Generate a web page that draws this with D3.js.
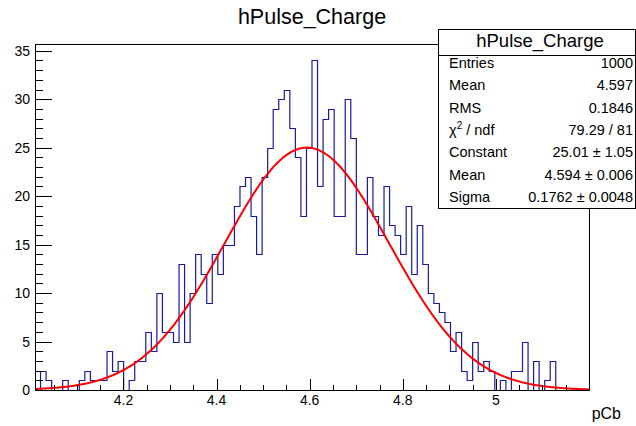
<!DOCTYPE html>
<html>
<head>
<meta charset="utf-8">
<script src="https://cdn.jsdelivr.net/npm/d3@7"></script>
<style>
  body { margin: 0; background: #fff; }
  svg { display: block; font-family: "Liberation Sans", Arial, Helvetica, sans-serif; }
</style>
</head>
<body>
<svg></svg>
<script>
// histogram hPulse_Charge: 100 bins between xMin and xMax
const xMin = 4.01;
const xMax = 5.2;
const counts = [
	0, 2, 1, 0, 0, 1, 0, 0, 1, 2,
	1, 1, 1, 4, 2, 3, 0, 1, 3, 3,
	6, 4, 10, 6, 6, 5, 13, 5, 10, 14,
	12, 9, 14, 12, 15, 15, 19, 21, 22, 18,
	14, 22, 25, 29, 30, 31, 27, 24, 18, 25,
	34, 21, 28, 29, 18, 18, 30, 26, 14, 14,
	22, 18, 16, 21, 17, 16, 14, 19, 12, 17,
	13, 10, 9, 8, 7, 4, 6, 2, 1, 5,
	2, 3, 2, 0, 1, 0, 2, 2, 5, 0,
	3, 0, 1, 3, 0, 0, 0, 0, 0, 0
];

// gaus fit parameters (from stats box)
const fitConst = 25.01;
const fitMean = 4.594;
const fitSigma = 0.1762;

const xTicks = [4.2, 4.4, 4.6, 4.8, 5];
const yTicks = [0, 5, 10, 15, 20, 25, 30, 35];

const statsRows = [
	["Entries", "1000"],
	["Mean", "4.597"],
	["RMS", "0.1846"],
	["chi2", "79.29 / 81"],
	["Constant", "25.01 \u00b1 1.05"],
	["Mean", "4.594 \u00b1 0.006"],
	["Sigma", "0.1762 \u00b1 0.0048"]
];

const size = { w: 636, h: 426 };
const frame = { l: 35, r: 589, t: 44, b: 390 };
const svg = d3.select("svg").attr("width", size.w).attr("height", size.h);

const yMax = d3.max(counts) * 1.05;
const x = d3.scaleLinear().domain([xMin, xMax]).range([frame.l, frame.r]);
const y = d3.scaleLinear().domain([0, yMax]).range([frame.b, frame.t]);

// title
svg.append("text")
	.attr("x", 312).attr("y", 24)
	.attr("text-anchor", "middle")
	.attr("font-size", 21.5)
	.text("hPulse_Charge");

// histogram outline
const binW = (xMax - xMin) / counts.length;
const path = d3.path();
counts.forEach((c, i) => {
	const x0 = x(xMin + i * binW), x1 = x(xMin + (i + 1) * binW);
	const yy = Math.round(y(c)) + 0.5;
	if (i === 0) path.moveTo(x0, yy);
	else path.lineTo(x0, yy);
	path.lineTo(x1, yy);
});
svg.append("path")
	.attr("d", path.toString())
	.attr("fill", "none")
	.attr("stroke", "#1a1aa0")
	.attr("stroke-width", 1.2);

// fitted gaussian
const gaus = (v) => fitConst * Math.exp(-0.5 * Math.pow((v - fitMean) / fitSigma, 2));
const pts = d3.range(0, 401).map((i) => xMin + (xMax - xMin) * i / 400);
svg.append("path")
	.attr("d", d3.line().x((d) => x(d)).y((d) => y(gaus(d)))(pts))
	.attr("fill", "none")
	.attr("stroke", "#ff0000")
	.attr("stroke-width", 2);

// frame
svg.append("rect")
	.attr("x", frame.l + 0.5).attr("y", frame.t + 0.5)
	.attr("width", frame.r - frame.l).attr("height", frame.b - frame.t)
	.attr("fill", "none").attr("stroke", "#000").attr("stroke-width", 1);

// x axis ticks (inside the frame)
const xMinor = d3.range(Math.ceil(xMin / 0.05) * 0.05, xMax, 0.05);
const axisG = svg.append("g").attr("stroke", "#000").attr("stroke-width", 1);
xMinor.forEach((t) => {
	const major = xTicks.some((m) => Math.abs(m - t) < 1e-6);
	const px = Math.round(x(t)) + 0.5;
	axisG.append("line")
		.attr("x1", px).attr("x2", px)
		.attr("y1", frame.b).attr("y2", frame.b - (major ? 11 : 5));
});
xTicks.forEach((t) => {
	svg.append("text")
		.attr("x", x(t)).attr("y", 405)
		.attr("text-anchor", "middle")
		.attr("font-size", 14)
		.text(t);
});

// y axis ticks
d3.range(0, Math.floor(yMax) + 1).forEach((t) => {
	const major = t % 5 === 0;
	const py = Math.round(y(t)) + 0.5;
	axisG.append("line")
		.attr("x1", frame.l).attr("x2", frame.l + (major ? 17 : 8))
		.attr("y1", py).attr("y2", py);
});
yTicks.forEach((t) => {
	svg.append("text")
		.attr("x", 30).attr("y", y(t) + 5)
		.attr("text-anchor", "end")
		.attr("font-size", 14)
		.text(t);
});

// x axis title
svg.append("text")
	.attr("x", 621).attr("y", 419)
	.attr("text-anchor", "end")
	.attr("font-size", 16)
	.text("pCb");

// stats box
const box = { l: 438.5, t: 29.5, r: 635.5, b: 208.5, head: 55.5 };
svg.append("rect")
	.attr("x", box.l).attr("y", box.t)
	.attr("width", box.r - box.l).attr("height", box.b - box.t)
	.attr("fill", "#fff").attr("stroke", "#000");
svg.append("line")
	.attr("x1", box.l).attr("x2", box.r)
	.attr("y1", box.head).attr("y2", box.head)
	.attr("stroke", "#000");
svg.append("text")
	.attr("x", 540).attr("y", 47)
	.attr("text-anchor", "middle")
	.attr("font-size", 18.5)
	.text("hPulse_Charge");

statsRows.forEach((row, i) => {
	const yy = 68 + i * 22.3;
	const label = svg.append("text")
		.attr("x", 449).attr("y", yy)
		.attr("font-size", 14.5);
	if (row[0] === "chi2") {
		label.append("tspan").text("\u03c7");
		label.append("tspan").attr("font-size", 10).attr("dy", -6).text("2");
		label.append("tspan").attr("dy", 6).text(" / ndf");
	} else {
		label.text(row[0]);
	}
	svg.append("text")
		.attr("x", 633).attr("y", yy)
		.attr("text-anchor", "end")
		.attr("font-size", 14.5)
		.text(row[1]);
});
</script>
</body>
</html>
